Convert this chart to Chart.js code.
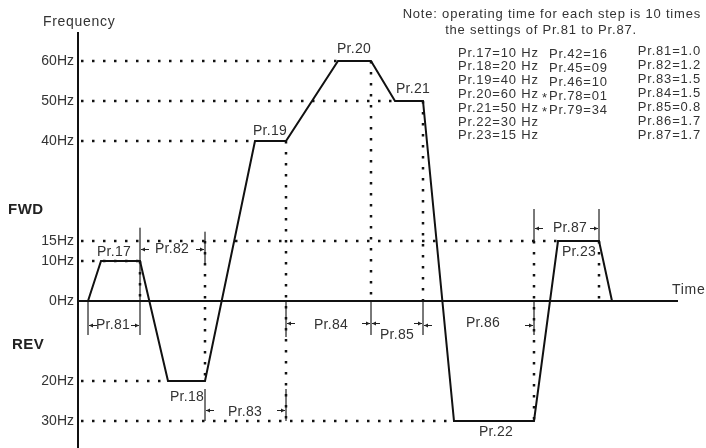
<!DOCTYPE html>
<html>
<head>
<meta charset="utf-8">
<script src="https://cdn.jsdelivr.net/npm/chart.js@4.4.1/dist/chart.umd.min.js"></script>
<style>
  body { margin: 0; background: #fff; }
  #wrap { position: relative; width: 706px; height: 448px; }
</style>
</head>
<body>
<div id="wrap"><canvas id="myChart"></canvas></div>
<script>
// run profile: time (arbitrary units) and frequency (Hz, negative = REV)
const profileTime = [1.0, 2.3, 6.2, 9.0, 12.7, 17.7, 20.8, 26.0, 29.3, 31.7, 34.5, 37.6, 45.6, 48.0, 52.1, 53.4];
const profileFreq = [0, 10, 10, -20, -20, 40, 40, 60, 60, 50, 50, -30, -30, 15, 15, 0];

// y axis ticks
const tickValues = [60, 50, 40, 15, 10, 0, -20, -30];
const tickLabels = ["60Hz", "50Hz", "40Hz", "15Hz", "10Hz", "0Hz", "20Hz", "30Hz"];

// dotted guides
const hGuideLevel = [60, 50, 40, 15, 10, -20, -30];
const hGuideEnd = [26.0, 31.7, 17.7, 48.0, 6.2, 9.0, 37.6];
const vGuideTime = [6.2, 12.7, 20.8, 29.3, 34.5, 45.6, 52.1];
const vGuideTop = [10, 15, 40, 60, 50, 15, 15];
const vGuideBottom = [0, -20, -30, 0, 0, -30, 0];

// thin marker lines for the step times
const markTime = [1.0, 6.2, 12.7, 12.7, 20.8, 20.8, 29.3, 34.5, 45.6, 45.6, 52.1];
const markTop = [0, 18.3, 17.3, -22, 0, -22, 0, 0, 23, 0, 23];
const markBottom = [-8.5, -8.5, 9, -30, -9, -30, -8.5, -8.5, 15, -8.5, 15];

// parameter table
const freqParams = ["Pr.17", "Pr.18", "Pr.19", "Pr.20", "Pr.21", "Pr.22", "Pr.23"];
const freqValues = [10, 20, 40, 60, 50, 30, 15];
const otherParams = ["Pr.42", "Pr.45", "Pr.46", "Pr.78", "Pr.79"];
const otherValues = ["16", "09", "10", "01", "34"];
const otherStar = [false, false, false, true, true];
const timeParams = ["Pr.81", "Pr.82", "Pr.83", "Pr.84", "Pr.85", "Pr.86", "Pr.87"];
const timeValues = ["1.0", "1.2", "1.5", "1.5", "0.8", "1.7", "1.7"];

// time spans with arrows (Pr.81..Pr.87)
const spanFrom = [1.0, 6.2, 12.7, 20.8, 29.3, 34.5, 45.6];
const spanTo = [6.2, 12.7, 20.8, 29.3, 34.5, 45.6, 52.1];
const spanLevel = [-6, 13, -27.3, -5.6, -5.6, -6, 18.2];

// labels on the plot
const labelText = ["Pr.17", "Pr.82", "Pr.18", "Pr.83", "Pr.19", "Pr.20", "Pr.21", "Pr.81", "Pr.84", "Pr.85", "Pr.86", "Pr.22", "Pr.87", "Pr.23"];
const labelTime = [3.6, 9.4, 10.9, 16.7, 19.2, 27.6, 33.5, 3.5, 25.3, 31.9, 40.5, 41.8, 49.2, 50.1];
const labelFreq = [12.2, 13, -24, -27.8, 42.5, 63, 53, -6, -6, -8.6, -5.5, -32.8, 18.2, 12.2];

const FONT = "'Liberation Sans', Arial, sans-serif";
const INK = "#222";

function seg(x0, y0, x1, y1, color, width, dash) {
  return {
    data: [{ x: x0, y: y0 }, { x: x1, y: y1 }],
    borderColor: color,
    borderWidth: width,
    borderDash: dash || [],
    pointRadius: 0,
    fill: false,
  };
}

const datasets = [];
// profile on top
datasets.push({
  data: profileTime.map((t, i) => ({ x: t, y: profileFreq[i] })),
  borderColor: "#111",
  borderWidth: 2,
  pointRadius: 0,
  tension: 0,
  fill: false,
});
// 0Hz axis
datasets.push(seg(0, 0, 60, 0, "#111", 2));
for (let i = 0; i < hGuideLevel.length; i++) {
  datasets.push(seg(0.3, hGuideLevel[i], hGuideEnd[i], hGuideLevel[i], "#111", 2.5, [2.5, 8.5]));
}
for (let i = 0; i < vGuideTime.length; i++) {
  datasets.push(seg(vGuideTime[i], vGuideTop[i], vGuideTime[i], vGuideBottom[i], "#111", 2.5, [2.5, 8.5]));
}
for (let i = 0; i < markTime.length; i++) {
  datasets.push(seg(markTime[i], markTop[i], markTime[i], markBottom[i], "#666", 1));
}

function arrow(ctx, x0, x1, y) {
  const dir = Math.sign(x1 - x0);
  ctx.beginPath();
  ctx.moveTo(x0, y);
  ctx.lineTo(x1, y);
  ctx.stroke();
  ctx.beginPath();
  ctx.moveTo(x1, y);
  ctx.lineTo(x1 - dir * 4, y - 2);
  ctx.lineTo(x1 - dir * 4, y + 2);
  ctx.closePath();
  ctx.fill();
}

// arrows, labels, note and parameter table
const overlay = {
  id: "overlay",
  afterDatasetsDraw(chart) {
    const ctx = chart.ctx;
    const xs = chart.scales.x;
    const ys = chart.scales.y;
    ctx.save();
    ctx.strokeStyle = INK;
    ctx.fillStyle = INK;
    ctx.lineWidth = 1;
    for (let i = 0; i < spanFrom.length; i++) {
      const y = Math.round(ys.getPixelForValue(spanLevel[i])) + 0.5;
      const a = xs.getPixelForValue(spanFrom[i]);
      const b = xs.getPixelForValue(spanTo[i]);
      arrow(ctx, a + 9, a + 1, y);
      arrow(ctx, b - 9, b - 1, y);
    }

    ctx.textBaseline = "middle";
    ctx.textAlign = "center";
    ctx.font = "14px " + FONT;
    ctx.letterSpacing = "0.3px";
    ctx.fillStyle = "#333";
    for (let i = 0; i < labelText.length; i++) {
      ctx.fillText(labelText[i], xs.getPixelForValue(labelTime[i]), ys.getPixelForValue(labelFreq[i]));
    }

    // axis titles
    ctx.textAlign = "left";
    ctx.letterSpacing = "0.7px";
    ctx.fillText("Frequency", 43, 22);
    ctx.fillText("Time", 672, 290);
    ctx.letterSpacing = "0.5px";
    ctx.font = "bold 15px " + FONT;
    ctx.fillStyle = "#222";
    ctx.fillText("FWD", 8, 210);
    ctx.fillText("REV", 12, 345);

    // note
    ctx.font = "13px " + FONT;
    ctx.letterSpacing = "0.8px";
    ctx.fillStyle = "#333";
    ctx.textAlign = "right";
    ctx.fillText("Note: operating time for each step is 10 times", 701, 14);
    ctx.textAlign = "center";
    ctx.fillText("the settings of Pr.81 to Pr.87.", 541, 30);

    // table
    ctx.textAlign = "left";
    for (let i = 0; i < freqParams.length; i++) {
      ctx.fillText(freqParams[i] + "=" + freqValues[i] + " Hz", 458, 53 + i * 13.8);
    }
    for (let i = 0; i < otherParams.length; i++) {
      const y = 54.5 + i * 13.9;
      ctx.fillText(otherParams[i] + "=" + otherValues[i], 549, y);
      if (otherStar[i]) ctx.fillText("*", 542, y + 2);
    }
    ctx.textAlign = "right";
    for (let i = 0; i < timeParams.length; i++) {
      ctx.fillText(timeParams[i] + "=" + timeValues[i], 701, 51 + i * 14);
    }
    ctx.restore();
  },
};

const ctx = document.getElementById("myChart").getContext("2d");
const myChart = new Chart(ctx, {
  type: "line",
  data: { datasets: datasets },
  options: {
    responsive: true,
    maintainAspectRatio: false,
    animation: false,
    layout: { padding: { top: 33, right: 28, bottom: 0, left: 0 } },
    plugins: { legend: { display: false }, tooltip: { enabled: false } },
    scales: {
      x: { type: "linear", min: 0, max: 60, display: false },
      y: {
        type: "linear",
        min: -36.75,
        max: 67,
        afterFit: (s) => {
          s.width = 78;
          s.paddingTop = 0;
          s.paddingBottom = 0;
        },
        afterBuildTicks: (s) => { s.ticks = tickValues.map((v) => ({ value: v })); },
        grid: { display: false, drawTicks: false },
        border: { display: true, color: "#111", width: 2 },
        ticks: {
          autoSkip: false,
          padding: 4,
          color: "#333",
          font: { family: FONT, size: 14 },
          callback: (v) => tickLabels[tickValues.indexOf(v)],
        },
      },
    },
  },
  plugins: [overlay],
});
</script>
</body>
</html>
